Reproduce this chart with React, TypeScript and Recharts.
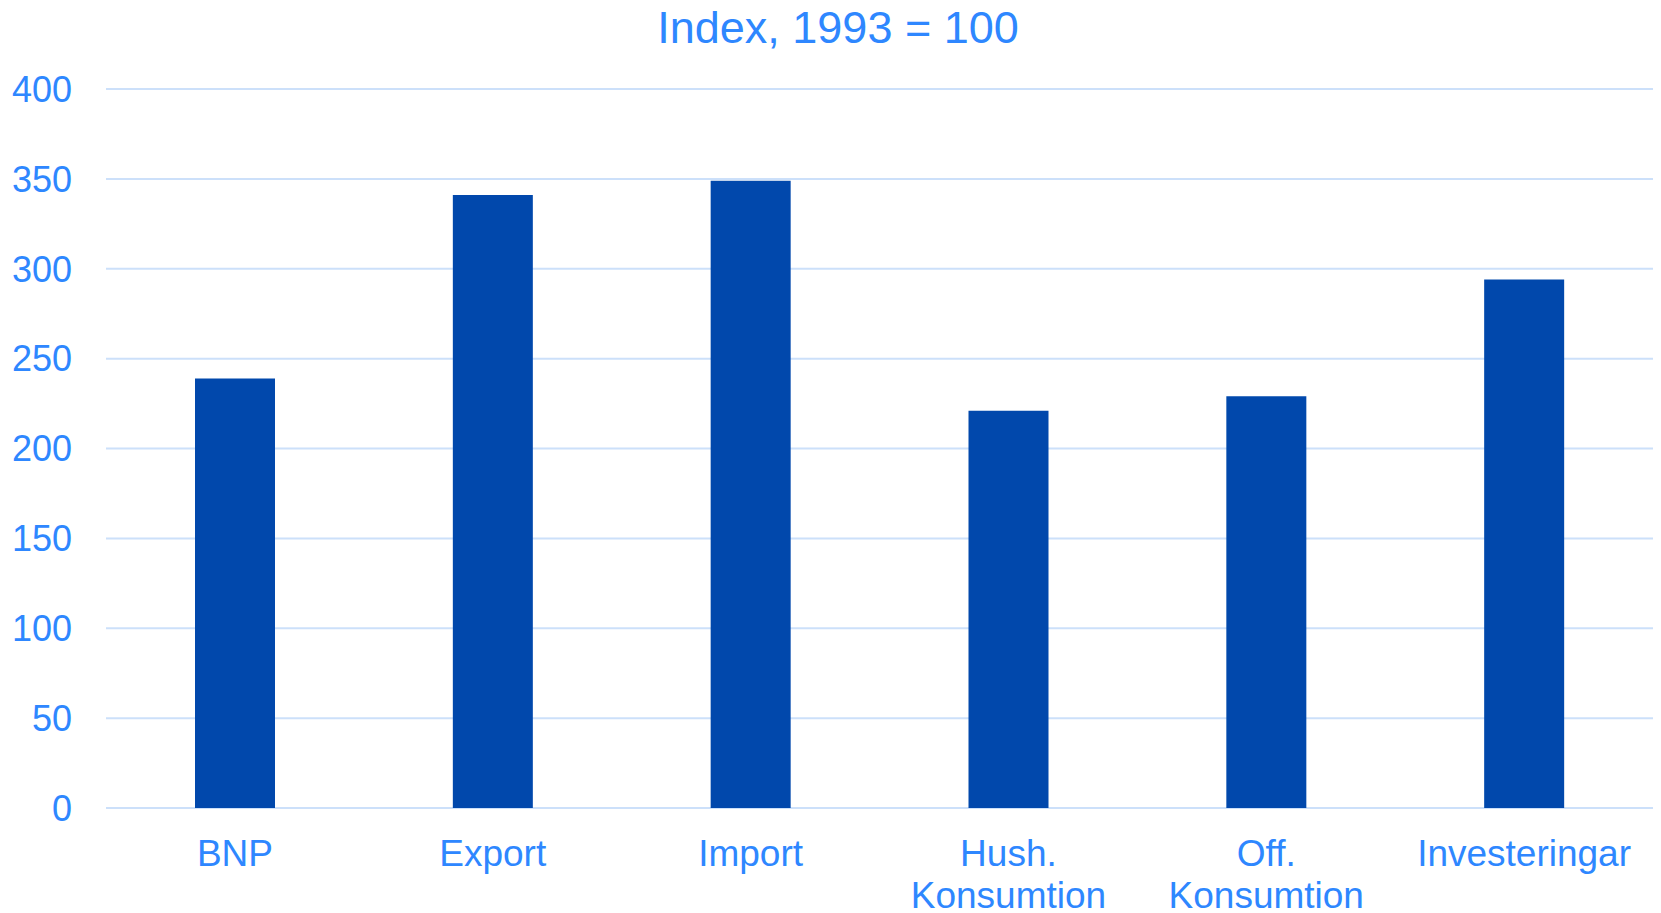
import { BarChart, Bar, XAxis, YAxis, CartesianGrid } from 'recharts';

const categories = ['BNP', 'Export', 'Import', 'Hush.\nKonsumtion', 'Off.\nKonsumtion', 'Investeringar'];
const indexValues = [239, 341, 349, 221, 229, 294];
const yTicks = [0, 50, 100, 150, 200, 250, 300, 350, 400];

const data = categories.map((name, i) => ({ name, value: indexValues[i] }));

const FONT = '"Liberation Sans", Arial, sans-serif';
const TEXT = '#2E87FF';
const BAR = '#0148AC';
const GRID = '#CCE0FA';

function CategoryTick(props: any) {
  const { x, y, payload } = props;
  const lines = String(payload.value).split('\n');
  return (
    <text x={x} y={y} textAnchor="middle" fill={TEXT} fontSize={37} fontFamily={FONT}>
      {lines.map((line, i) => (
        <tspan key={i} x={x} y={y + 56 + i * 42}>
          {line}
        </tspan>
      ))}
    </text>
  );
}

export default function App() {
  return (
    <div style={{ position: 'absolute', left: 0, top: 0, width: 1661, height: 913, background: '#fff' }}>
      <div
        style={{
          position: 'absolute',
          left: 638,
          top: 5,
          width: 400,
          textAlign: 'center',
          fontFamily: FONT,
          fontSize: 45,
          lineHeight: '45px',
          color: TEXT,
          whiteSpace: 'nowrap',
        }}
      >
        Index, 1993 = 100
      </div>
      <BarChart width={1661} height={913} data={data} margin={{ top: 89, right: 8, bottom: 0, left: 0 }}>
        <CartesianGrid vertical={false} stroke={GRID} strokeWidth={2} />
        <XAxis
          dataKey="name"
          height={105}
          axisLine={false}
          tickLine={false}
          tickSize={0}
          tick={<CategoryTick />}
          interval={0}
        />
        <YAxis
          domain={[0, 400]}
          ticks={yTicks}
          width={106}
          axisLine={false}
          tickLine={false}
          tickSize={0}
          tickMargin={34}
          tick={{ fill: TEXT, fontSize: 36, fontFamily: FONT }}
        />
        <Bar dataKey="value" fill={BAR} barSize={80} isAnimationActive={false} />
      </BarChart>
    </div>
  );
}
